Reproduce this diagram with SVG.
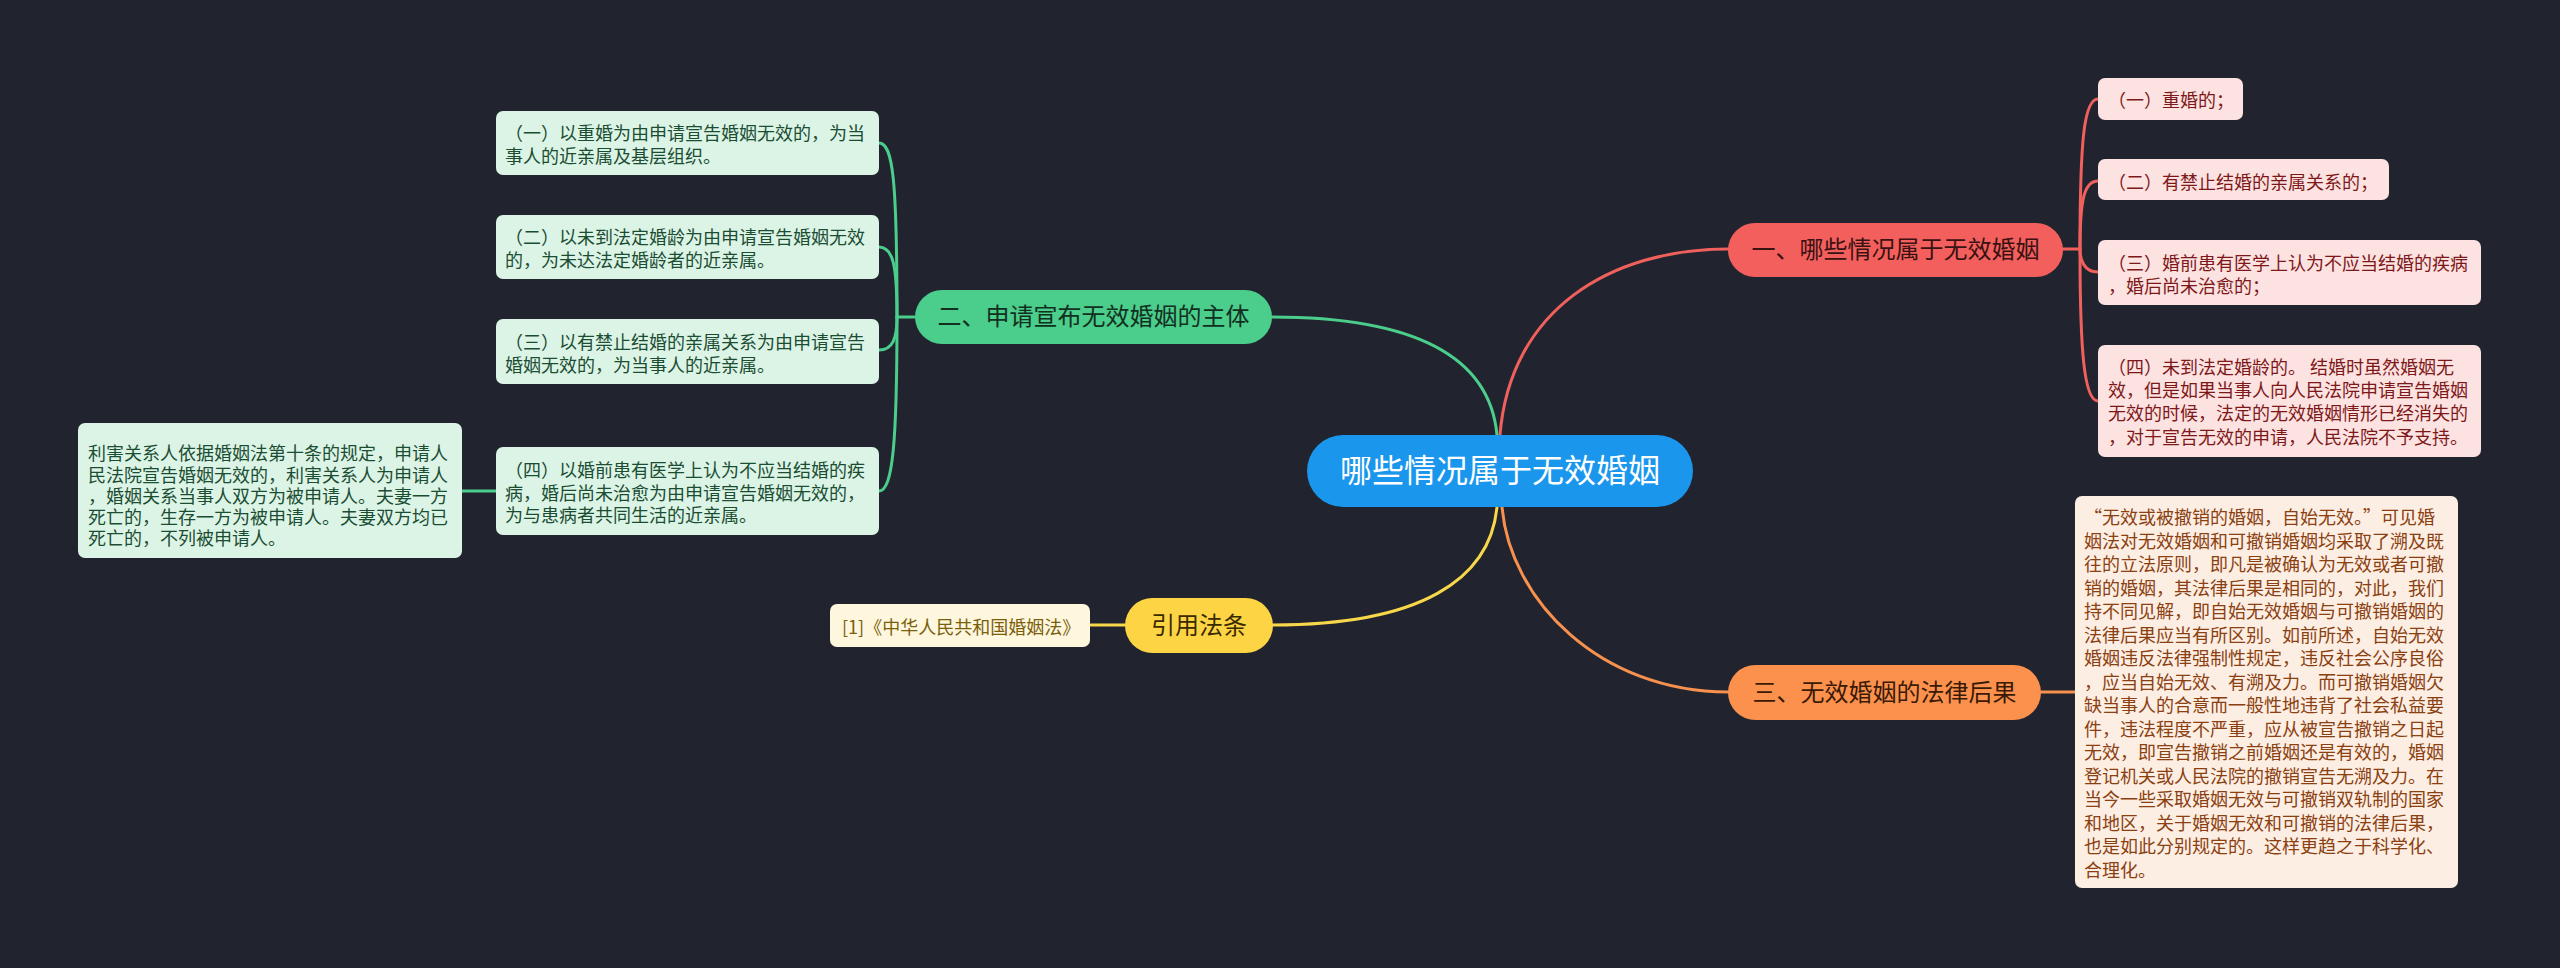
<svg xmlns="http://www.w3.org/2000/svg" width="2560" height="968" viewBox="0 0 2560 968">
<style>
text{font-family:"Noto Sans CJK SC","Noto Sans",sans-serif;}
.conn{fill:none;stroke-width:3;stroke-linecap:round;}
.cg{stroke:#4bcd8b}.cr{stroke:#f0605d}.cy{stroke:#f8d84a}.co{stroke:#f8914e}
.main{font-size:24px;text-anchor:middle;}
.small{font-size:18px;}
.gbox{fill:#dcf4e6;}.gtxt{fill:#1b4d33;}
.rbox{fill:#fde2e2;}.rtxt{fill:#7d1818;}
.obox{fill:#fdeee3;}.otxt{fill:#8a4010;}
.ybox{fill:#fef7de;}.ytxt{fill:#7a5e0c;}
</style>
<rect x="0" y="0" width="2560" height="968" fill="#21242f"/>
<g id="connectors">
<path class="conn cr" d="M1500,435 C1510,310 1610,249 1728,249"/>
<path class="conn co" d="M1502,507 C1510,600 1600,692 1728,692"/>
<path class="conn cg" d="M1497,435 C1490,360 1420,317 1272,317"/>
<path class="conn cy" d="M1497,507 C1490,580 1420,625 1273,625"/>
<path class="conn cg" d="M915,317 L897,317"/>
<path class="conn cg" d="M897,317 C897,180 893,143 879,143"/>
<path class="conn cg" d="M897,317 C897,265 893,247 879,247"/>
<path class="conn cg" d="M897,317 C897,338 893,350 879,350"/>
<path class="conn cg" d="M897,317 C897,440 893,491 879,491"/>
<path class="conn cg" d="M496,491 L462,491"/>
<path class="conn cr" d="M2063,249 L2080,249"/>
<path class="conn cr" d="M2080,249 C2080,140 2084,99 2098,99"/>
<path class="conn cr" d="M2080,249 C2080,200 2084,181 2098,181"/>
<path class="conn cr" d="M2080,249 C2080,260 2084,272 2098,272"/>
<path class="conn cr" d="M2080,249 C2080,350 2084,401 2098,401"/>
<path class="conn co" d="M2041,692 L2075,692"/>
<path class="conn cy" d="M1125,625 L1090,625"/>
</g>
<g id="center">
<rect x="1307" y="435" width="386" height="72" rx="36" fill="#1a97ec"/>
<text x="1500" y="482" font-size="32" text-anchor="middle" fill="#ffffff">哪些情况属于无效婚姻</text>
</g>
<g id="n1">
<rect x="1728" y="223" width="335" height="54" rx="27" fill="#f35f5d"/>
<text class="main" x="1895.5" y="258" fill="#3a1212">一、哪些情况属于无效婚姻</text>
</g>
<g id="n1-1">
<rect class="rbox" x="2098" y="78" width="145" height="42" rx="7"/>
<text class="small rtxt" x="2108" y="107">（一）重婚的；</text>
</g>
<g id="n1-2">
<rect class="rbox" x="2098" y="159" width="291" height="41" rx="7"/>
<text class="small rtxt" x="2108" y="189">（二）有禁止结婚的亲属关系的；</text>
</g>
<g id="n1-3">
<rect class="rbox" x="2098" y="240" width="383" height="65" rx="7"/>
<text class="small rtxt"><tspan x="2108" y="270">（三）婚前患有医学上认为不应当结婚的疾病</tspan><tspan x="2108" y="293">，婚后尚未治愈的；</tspan></text>
</g>
<g id="n1-4">
<rect class="rbox" x="2098" y="345" width="383" height="112" rx="7"/>
<text class="small rtxt"><tspan x="2108" y="374">（四）未到法定婚龄的。 结婚时虽然婚姻无</tspan><tspan x="2108" y="397">效，但是如果当事人向人民法院申请宣告婚姻</tspan><tspan x="2108" y="420">无效的时候，法定的无效婚姻情形已经消失的</tspan><tspan x="2108" y="444">，对于宣告无效的申请，人民法院不予支持。</tspan></text>
</g>
<g id="n2">
<rect x="915" y="290" width="357" height="54" rx="27" fill="#4bcd8b"/>
<text class="main" x="1093.5" y="325" fill="#12301f">二、申请宣布无效婚姻的主体</text>
</g>
<g id="n2-1">
<rect class="gbox" x="496" y="111" width="383" height="64" rx="7"/>
<text class="small gtxt"><tspan x="505" y="140">（一）以重婚为由申请宣告婚姻无效的，为当</tspan><tspan x="505" y="163">事人的近亲属及基层组织。</tspan></text>
</g>
<g id="n2-2">
<rect class="gbox" x="496" y="215" width="383" height="64" rx="7"/>
<text class="small gtxt"><tspan x="505" y="244">（二）以未到法定婚龄为由申请宣告婚姻无效</tspan><tspan x="505" y="267">的，为未达法定婚龄者的近亲属。</tspan></text>
</g>
<g id="n2-3">
<rect class="gbox" x="496" y="319" width="383" height="65" rx="7"/>
<text class="small gtxt"><tspan x="505" y="349">（三）以有禁止结婚的亲属关系为由申请宣告</tspan><tspan x="505" y="372">婚姻无效的，为当事人的近亲属。</tspan></text>
</g>
<g id="n2-4">
<rect class="gbox" x="496" y="447" width="383" height="88" rx="7"/>
<text class="small gtxt"><tspan x="505" y="477">（四）以婚前患有医学上认为不应当结婚的疾</tspan><tspan x="505" y="500">病，婚后尚未治愈为由申请宣告婚姻无效的，</tspan><tspan x="505" y="522">为与患病者共同生活的近亲属。</tspan></text>
</g>
<g id="n2-4-1">
<rect class="gbox" x="78" y="423" width="384" height="135" rx="7"/>
<text class="small gtxt"><tspan x="88" y="460">利害关系人依据婚姻法第十条的规定，申请人</tspan><tspan x="88" y="482">民法院宣告婚姻无效的，利害关系人为申请人</tspan><tspan x="88" y="503">，婚姻关系当事人双方为被申请人。夫妻一方</tspan><tspan x="88" y="524">死亡的，生存一方为被申请人。夫妻双方均已</tspan><tspan x="88" y="545">死亡的，不列被申请人。</tspan></text>
</g>
<g id="n3">
<rect x="1125" y="598" width="148" height="55" rx="27.5" fill="#fdd544"/>
<text class="main" x="1199" y="634" fill="#3a2a00">引用法条</text>
</g>
<g id="n3-1">
<rect class="ybox" x="830" y="604" width="260" height="43" rx="7"/>
<text class="small ytxt" x="842" y="634">[1]《中华人民共和国婚姻法》</text>
</g>
<g id="n4">
<rect x="1728" y="665" width="313" height="55" rx="27.5" fill="#fc914e"/>
<text class="main" x="1884.5" y="701" fill="#3a1a05">三、无效婚姻的法律后果</text>
</g>
<g id="n4-1">
<rect class="obox" x="2075" y="496" width="383" height="392" rx="7"/>
<text class="small otxt"><tspan x="2084" y="524">“无效或被撤销的婚姻，自始无效。”可见婚</tspan><tspan x="2084" y="547.5">姻法对无效婚姻和可撤销婚姻均采取了溯及既</tspan><tspan x="2084" y="571">往的立法原则，即凡是被确认为无效或者可撤</tspan><tspan x="2084" y="594.5">销的婚姻，其法律后果是相同的，对此，我们</tspan><tspan x="2084" y="618">持不同见解，即自始无效婚姻与可撤销婚姻的</tspan><tspan x="2084" y="641.5">法律后果应当有所区别。如前所述，自始无效</tspan><tspan x="2084" y="665">婚姻违反法律强制性规定，违反社会公序良俗</tspan><tspan x="2084" y="688.5">，应当自始无效、有溯及力。而可撤销婚姻欠</tspan><tspan x="2084" y="712">缺当事人的合意而一般性地违背了社会私益要</tspan><tspan x="2084" y="735.5">件，违法程度不严重，应从被宣告撤销之日起</tspan><tspan x="2084" y="759">无效，即宣告撤销之前婚姻还是有效的，婚姻</tspan><tspan x="2084" y="782.5">登记机关或人民法院的撤销宣告无溯及力。在</tspan><tspan x="2084" y="806">当今一些采取婚姻无效与可撤销双轨制的国家</tspan><tspan x="2084" y="829.5">和地区，关于婚姻无效和可撤销的法律后果，</tspan><tspan x="2084" y="853">也是如此分别规定的。这样更趋之于科学化、</tspan><tspan x="2084" y="876.5">合理化。</tspan></text>
</g>
</svg>
